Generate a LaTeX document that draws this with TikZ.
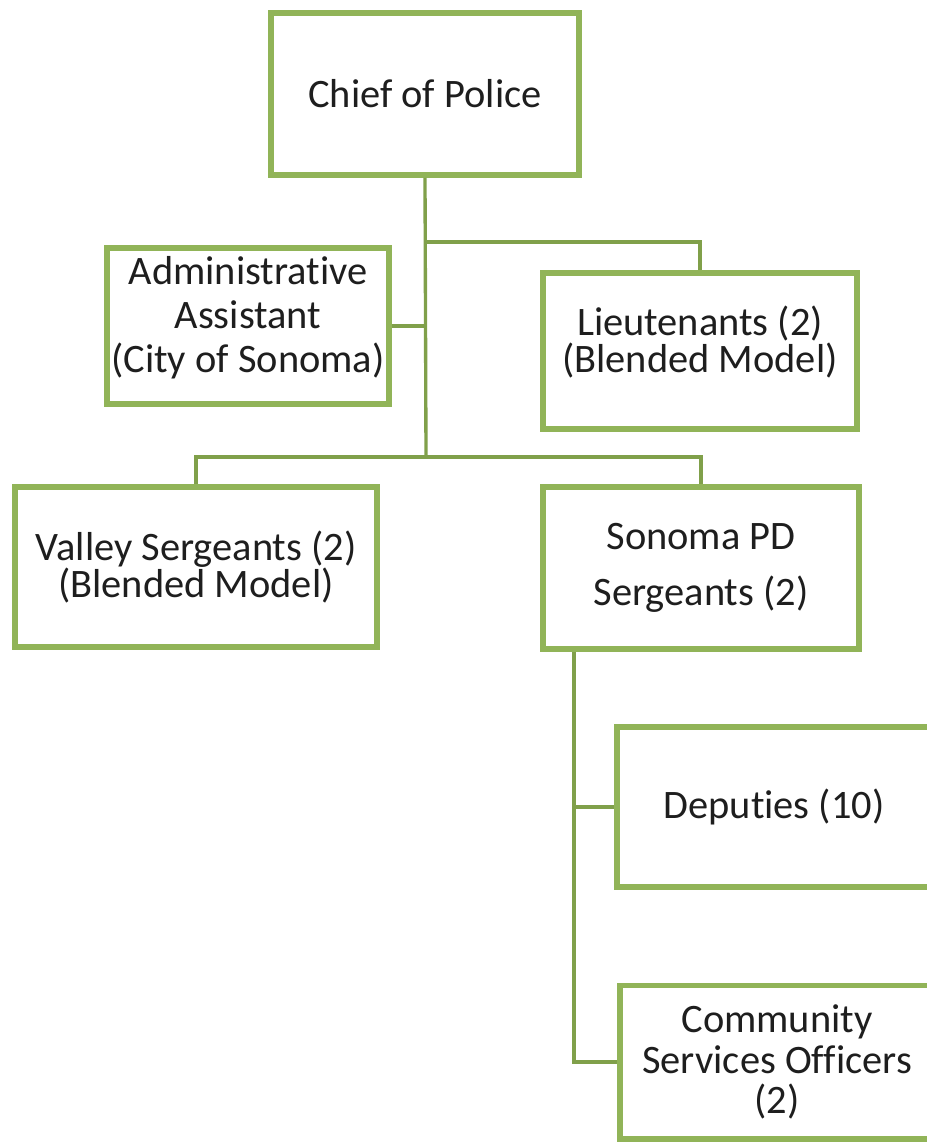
\documentclass[tikz,border=0pt]{standalone}
\usepackage{fontspec}
\setmainfont{Carlito}[Ligatures=NoCommon]
\usepackage{xcolor}
\usepackage{tikz}
\definecolor{boxgreen}{RGB}{145,180,88}
\definecolor{linegreen}{RGB}{128,160,74}
\definecolor{txt}{RGB}{30,30,30}

\begin{document}
\begin{tikzpicture}[x=0.2mm,y=-0.2mm,
    post/.style={draw=boxgreen,line width=3.4pt,fill=white,align=center,
        text=txt,font=\fontsize{23}{27}\selectfont,inner sep=2pt},
    link/.style={draw=linegreen,line width=1.9pt}]
    \useasboundingbox (0,0) rectangle (927,1142);
    \clip (0,0) rectangle (927,1142);
    % Top
    \node[post,minimum width=6.16cm,minimum height=3.24cm] (chief) at (425,94) {Chief of Police};
    \node[post,minimum width=5.64cm,minimum height=3.12cm] (admin) at (248,326)
        {Administrative\\[-2pt]Assistant\\[-2pt](City of Sonoma)\\[-14pt]\mbox{}};
    \node[post,minimum width=6.28cm,minimum height=3.12cm] (lieut) at (700,351)
        {Lieutenants (2)\\[-6pt](Blended Model)\\[-14pt]\mbox{}};
    % Sergeants
    \node[post,minimum width=7.24cm,minimum height=3.2cm] (valley) at (196,567)
        {Valley Sergeants (2)\\[-6pt](Blended Model)};
    \node[post,minimum width=6.32cm,minimum height=3.24cm] (sonoma) at (701,568)
        {Sonoma PD\\[5pt]Sergeants (2)};
    % Under Sonoma PD
    \node[post,minimum width=6.28cm,minimum height=3.2cm] (deputies) at (774,807) {Deputies (10)};
    \node[post,minimum width=6.28cm,minimum height=3.06cm] (cso) at (777,1062)
        {Community\\[-4pt]Services Officers\\[-4pt](2)};
    % Connectors
    \coordinate (hubtop) at (426,242);
    \coordinate (hub) at (426,457);
    \coordinate (drop) at (574,652);
    \draw[link] (chief.south) -- (hub);
    \draw[link] (hubtop) -| (lieut.north);
    \draw[link] (admin.east) -- (admin.east -| hub);
    \draw[link] (valley.north) |- (hub) -| (sonoma.north);
    \draw[link] (sonoma.south -| drop) |- (cso.west);
    \draw[link] (deputies.west -| drop) -- (deputies.west);
\end{tikzpicture}
\end{document}
